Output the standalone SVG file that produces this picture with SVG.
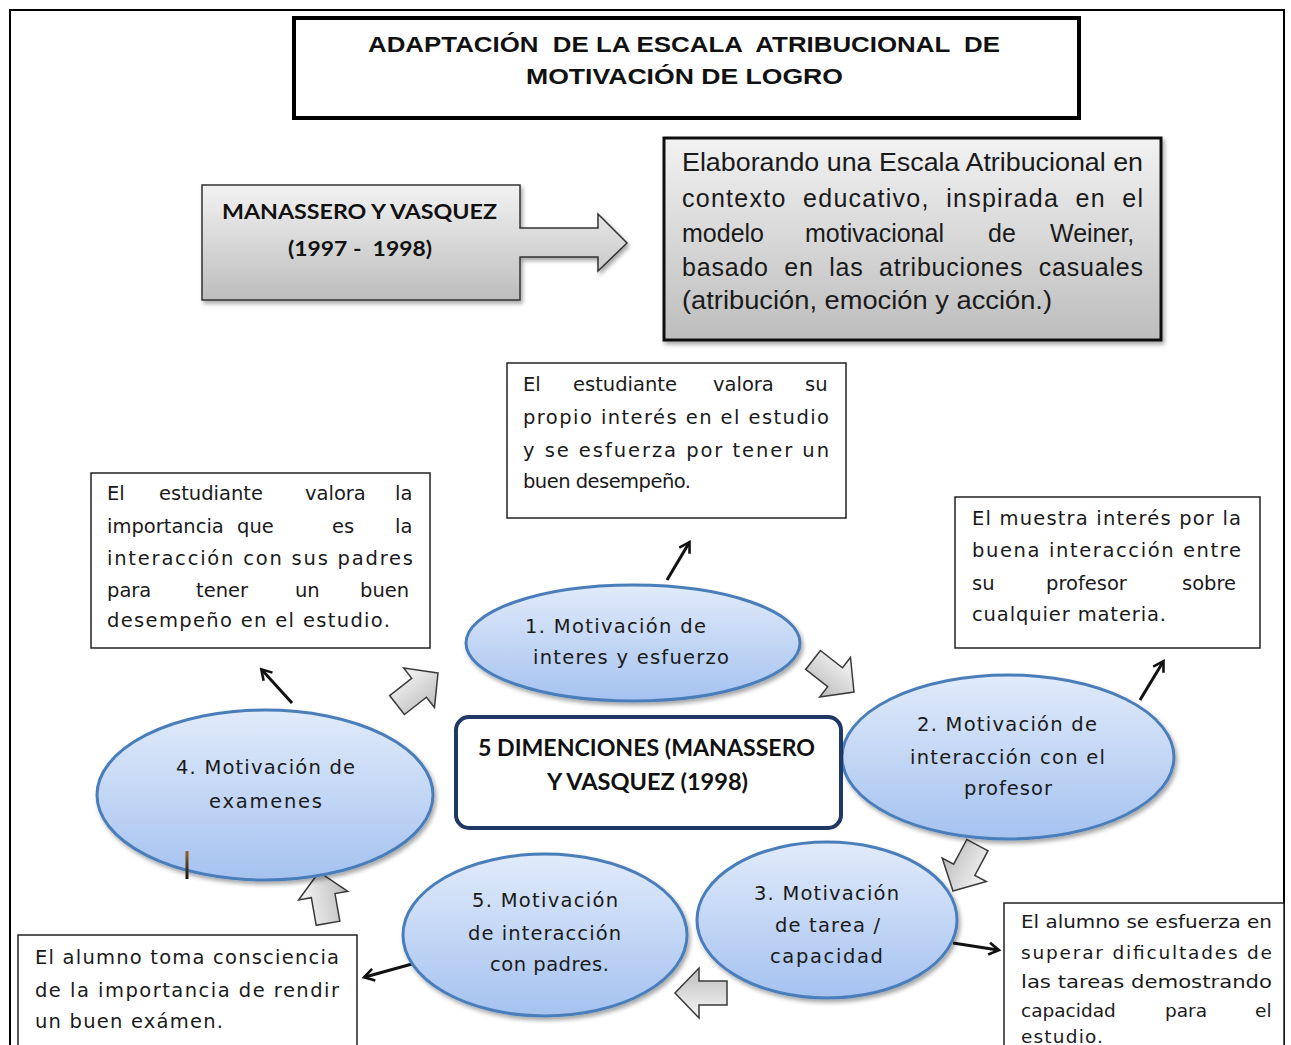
<svg xmlns="http://www.w3.org/2000/svg" width="1291" height="1045" viewBox="0 0 1291 1045">
<style>
.t{font-family:"DejaVu Sans","Liberation Sans",sans-serif;fill:#1a1a1a}
.g{font-family:"Liberation Sans Narrow","Liberation Sans",Arial,sans-serif;fill:#1a1a1a}
.b{font-family:"Liberation Sans",Arial,sans-serif;font-weight:bold;fill:#111}
.c{font-family:Lato,"Liberation Sans",sans-serif;font-weight:bold;fill:#111}
.pre{white-space:pre}
.box{fill:#fff;stroke:#222;stroke-width:1.5}
.ell{fill:url(#eg);stroke:#4a7ebb;stroke-width:3}
.blk{fill:url(#ag);stroke:#3a3a3a;stroke-width:1.5;stroke-linejoin:miter}
.con{stroke:#111;stroke-width:3;fill:none;marker-end:url(#ah)}
.f21{font-size:19.5px}
.f20{font-size:18.5px}
.f24{font-size:25px}
</style>
<defs>
<linearGradient id="eg" x1="0" y1="0" x2="0" y2="1">
<stop offset="0" stop-color="#e1ebfa"/><stop offset="1" stop-color="#a5c2f0"/>
</linearGradient>
<linearGradient id="gg" x1="0" y1="0" x2="0" y2="1">
<stop offset="0" stop-color="#f2f2f2"/><stop offset="1" stop-color="#bdbdbd"/>
</linearGradient>
<linearGradient id="ag" x1="0" y1="0" x2="0" y2="1">
<stop offset="0" stop-color="#f7f7f7"/><stop offset="1" stop-color="#bcbcbc"/>
</linearGradient>
<linearGradient id="cur" x1="0" y1="0" x2="0" y2="1">
<stop offset="0" stop-color="#9a6428"/><stop offset="1" stop-color="#111"/>
</linearGradient>
<filter id="sh" x="-10%" y="-10%" width="125%" height="130%">
<feDropShadow dx="2" dy="3" stdDeviation="2" flood-color="#000" flood-opacity="0.35"/>
</filter>
<marker id="ah" markerUnits="userSpaceOnUse" markerWidth="16" markerHeight="16" refX="12" refY="8" orient="auto">
<path d="M3,2 L13,8 L3,14" fill="none" stroke="#111" stroke-width="2.6"/>
</marker>
<polygon id="barrow" points="0,0 -24,-25 -24,-12 -52,-12 -52,12 -24,12 -24,25"/>
</defs>
<rect width="1291" height="1045" fill="#fff"/>
<rect x="10" y="10" width="1274" height="1070" fill="none" stroke="#000" stroke-width="2"/>

<g id="title">
<rect x="294" y="18" width="785" height="100" fill="#fff" stroke="#000" stroke-width="4"/>
<text class="b pre" font-size="22" x="368" y="52" textLength="632" lengthAdjust="spacingAndGlyphs">ADAPTACIÓN  DE LA ESCALA  ATRIBUCIONAL  DE</text>
<text class="b" font-size="22" x="526" y="84" textLength="317" lengthAdjust="spacingAndGlyphs">MOTIVACIÓN DE LOGRO</text>
</g>

<g id="manassero">
<path d="M202,185 H520 V228 H598 V214 L627,243 L598,271 V257 H520 V300 H202 Z" fill="url(#gg)" stroke="#333" stroke-width="1.5" filter="url(#sh)"/>
<text class="c" font-size="21" x="222" y="219" textLength="275" lengthAdjust="spacingAndGlyphs">MANASSERO Y VASQUEZ</text>
<text class="c pre" font-size="21" x="288" y="256" textLength="144" lengthAdjust="spacingAndGlyphs">(1997 -  1998)</text>
</g>

<g id="weiner">
<rect x="664" y="138" width="497" height="202" fill="url(#gg)" stroke="#111" stroke-width="3" filter="url(#sh)"/>
<text class="g f24" x="682" y="171" textLength="461" lengthAdjust="spacingAndGlyphs">Elaborando una Escala Atribucional en</text>
<text class="g f24 pre" x="682" y="207" textLength="461" lengthAdjust="spacing">contexto  educativo,  inspirada  en  el</text>
<text class="g f24" y="242"><tspan x="682">modelo</tspan><tspan x="805">motivacional</tspan><tspan x="988">de</tspan><tspan x="1050">Weiner,</tspan></text>
<text class="g f24 pre" x="682" y="276" textLength="461" lengthAdjust="spacing">basado  en  las  atribuciones  casuales</text>
<text class="g f24" x="682" y="309" textLength="370" lengthAdjust="spacingAndGlyphs">(atribución, emoción y acción.)</text>
</g>

<g id="box-interes">
<rect class="box" x="507" y="363" width="339" height="155"/>
<text class="t f21" y="391"><tspan x="523">El</tspan><tspan x="573">estudiante</tspan><tspan x="713">valora</tspan><tspan x="805">su</tspan></text>
<text class="t f21" x="523" y="424" textLength="306" lengthAdjust="spacing">propio interés en el estudio</text>
<text class="t f21" x="523" y="457" textLength="306" lengthAdjust="spacing">y se esfuerza por tener un</text>
<text class="t f21" x="523" y="488" textLength="168" lengthAdjust="spacing">buen desempeño.</text>
</g>

<g id="box-padres">
<rect class="box" x="91" y="473" width="339" height="175"/>
<text class="t f21" y="500"><tspan x="107">El</tspan><tspan x="159">estudiante</tspan><tspan x="305">valora</tspan><tspan x="395">la</tspan></text>
<text class="t f21" y="533"><tspan x="107">importancia</tspan><tspan x="237">que</tspan><tspan x="332">es</tspan><tspan x="395">la</tspan></text>
<text class="t f21" x="107" y="565" textLength="306" lengthAdjust="spacing">interacción con sus padres</text>
<text class="t f21" y="597"><tspan x="107">para</tspan><tspan x="196">tener</tspan><tspan x="295">un</tspan><tspan x="360">buen</tspan></text>
<text class="t f21" x="107" y="627" textLength="283" lengthAdjust="spacing">desempeño en el estudio.</text>
</g>

<g id="box-profesor">
<rect class="box" x="955" y="497" width="305" height="151"/>
<text class="t f21" x="972" y="525" textLength="269" lengthAdjust="spacing">El muestra interés por la</text>
<text class="t f21" x="972" y="557" textLength="269" lengthAdjust="spacing">buena interacción entre</text>
<text class="t f21" y="590"><tspan x="972">su</tspan><tspan x="1046">profesor</tspan><tspan x="1182">sobre</tspan></text>
<text class="t f21" x="972" y="621" textLength="194" lengthAdjust="spacing">cualquier materia.</text>
</g>

<g id="box-tarea">
<rect class="box" x="1004" y="903" width="280" height="160"/>
<text class="t f20" x="1021" y="928" textLength="251" lengthAdjust="spacingAndGlyphs">El alumno se esfuerza en</text>
<text class="t f20" x="1021" y="959" textLength="251" lengthAdjust="spacing">superar dificultades de</text>
<text class="t f20" x="1021" y="988" textLength="251" lengthAdjust="spacingAndGlyphs">las tareas demostrando</text>
<text class="t f20" y="1017"><tspan x="1021">capacidad</tspan><tspan x="1165">para</tspan><tspan x="1255">el</tspan></text>
<text class="t f20" x="1021" y="1043" textLength="82" lengthAdjust="spacing">estudio.</text>
</g>

<g id="box-examen">
<rect class="box" x="18" y="935" width="339" height="130"/>
<text class="t f21" x="35" y="964" textLength="304" lengthAdjust="spacing">El alumno toma consciencia</text>
<text class="t f21" x="35" y="997" textLength="304" lengthAdjust="spacing">de la importancia de rendir</text>
<text class="t f21" x="35" y="1028" textLength="188" lengthAdjust="spacing">un buen exámen.</text>
</g>

<g id="connectors">
<line class="con" x1="667" y1="580" x2="689" y2="543"/>
<line class="con" x1="1140" y1="700" x2="1163" y2="662"/>
<line class="con" x1="292" y1="703" x2="262" y2="670"/>
<line class="con" x1="953" y1="943" x2="998" y2="950"/>
<line class="con" x1="412" y1="964" x2="365" y2="977"/>
<use href="#barrow" class="blk" transform="translate(438,673) rotate(-38)"/>
<use href="#barrow" class="blk" transform="translate(854,692) rotate(38)"/>
<use href="#barrow" class="blk" transform="translate(953,891) rotate(118)"/>
<use href="#barrow" class="blk" transform="translate(319,872) rotate(-100)"/>
</g>

<g id="node1">
<ellipse class="ell" cx="633" cy="643" rx="167" ry="58" filter="url(#sh)"/>
<text class="t f21" x="525" y="633" textLength="181" lengthAdjust="spacing">1. Motivación de</text>
<text class="t f21" x="533" y="664" textLength="196" lengthAdjust="spacing">interes y esfuerzo</text>
</g>

<g id="node2">
<ellipse class="ell" cx="1008" cy="757" rx="166" ry="82" filter="url(#sh)"/>
<text class="t f21" x="917" y="731" textLength="180" lengthAdjust="spacing">2. Motivación de</text>
<text class="t f21" x="910" y="764" textLength="195" lengthAdjust="spacing">interacción con el</text>
<text class="t f21" x="964" y="795" textLength="88" lengthAdjust="spacing">profesor</text>
</g>

<g id="node3">
<ellipse class="ell" cx="827" cy="920" rx="130" ry="78" filter="url(#sh)"/>
<text class="t f21" x="754" y="900" textLength="145" lengthAdjust="spacing">3. Motivación</text>
<text class="t f21" x="775" y="932" textLength="105" lengthAdjust="spacing">de tarea /</text>
<text class="t f21" x="770" y="963" textLength="113" lengthAdjust="spacing">capacidad</text>
</g>

<g id="node4">
<ellipse class="ell" cx="265" cy="795" rx="168" ry="85" filter="url(#sh)"/>
<text class="t f21" x="176" y="774" textLength="179" lengthAdjust="spacing">4. Motivación de</text>
<text class="t f21" x="209" y="808" textLength="113" lengthAdjust="spacing">examenes</text>
<rect x="185.5" y="851" width="3" height="28" fill="url(#cur)"/>
</g>

<g id="node5">
<ellipse class="ell" cx="545" cy="935" rx="142" ry="81" filter="url(#sh)"/>
<text class="t f21" x="472" y="907" textLength="146" lengthAdjust="spacing">5. Motivación</text>
<text class="t f21" x="468" y="940" textLength="153" lengthAdjust="spacing">de interacción</text>
<text class="t f21" x="490" y="971" textLength="119" lengthAdjust="spacing">con padres.</text>
</g>

<g id="arrow-3-5">
<use href="#barrow" class="blk" transform="translate(675,993) rotate(180)"/>
</g>

<g id="center">
<rect x="456" y="717" width="385" height="111" rx="13" fill="#fff" stroke="#1f3864" stroke-width="4"/>
<text class="c" font-size="22" x="478" y="756" textLength="337" lengthAdjust="spacingAndGlyphs">5 DIMENCIONES (MANASSERO</text>
<text class="c" font-size="22" x="547" y="790" textLength="201" lengthAdjust="spacingAndGlyphs">Y VASQUEZ (1998)</text>
</g>
</svg>
